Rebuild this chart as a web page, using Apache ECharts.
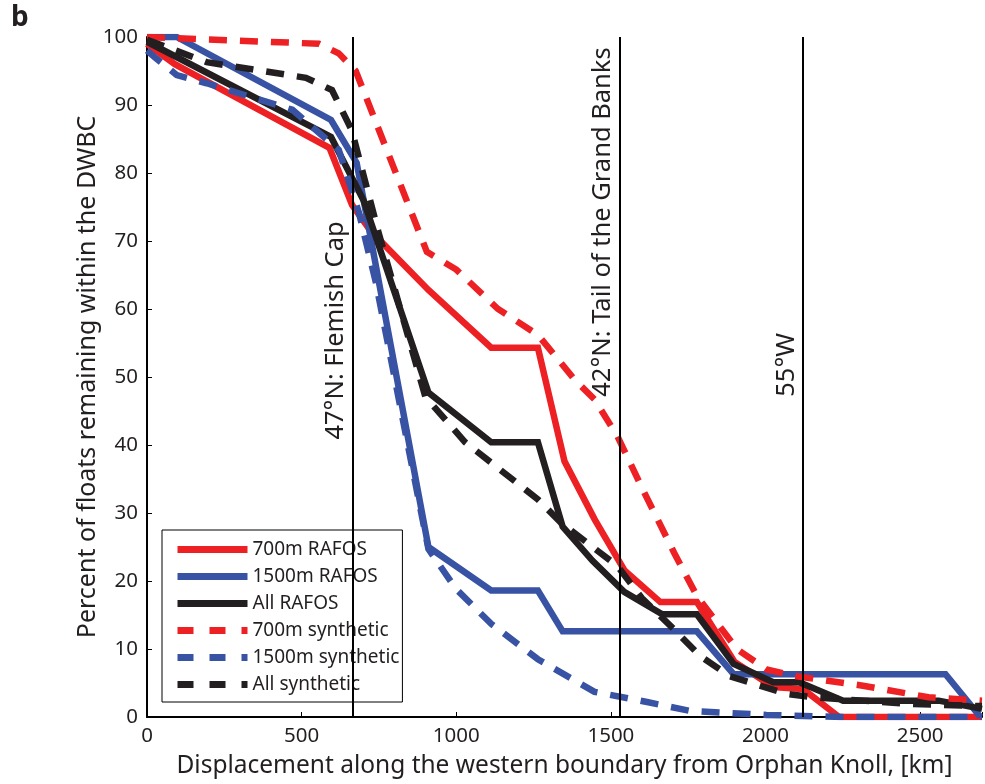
<!DOCTYPE html>
<html><head><meta charset="utf-8">
<script src="https://cdn.jsdelivr.net/npm/echarts@6/dist/echarts.min.js"></script>
<style>html,body{margin:0;padding:0;background:#fff}#c{width:985px;height:784px}</style>
</head><body><div id="c"></div>
<script>
const FONT = '"Noto Sans", "Open Sans", sans-serif';
const xTicks = [0, 500, 1000, 1500, 2000, 2500];
const yTicks = [0, 10, 20, 30, 40, 50, 60, 70, 80, 90, 100];

const r700X = [0, 90, 590, 663, 723, 910, 1113, 1264, 1350, 1447, 1545, 1660, 1778, 1900, 2025, 2122, 2238, 2700];
const r700Y = [99, 96, 83.7, 75.3, 71.5, 62.8, 54.3, 54.3, 37.6, 29.1, 21.5, 16.9, 16.9, 8.1, 4.4, 4.1, 0, 0];

const r1500X = [0, 96, 595, 678, 910, 1113, 1264, 1344, 1778, 1897, 2582, 2695];
const r1500Y = [100, 100, 87.8, 81.5, 25, 18.6, 18.6, 12.6, 12.6, 6.3, 6.3, 0];

const rAllX = [0, 595, 700, 910, 1113, 1264, 1344, 1440, 1543, 1666, 1778, 1897, 2025, 2109, 2251, 2560, 2700];
const rAllY = [99.3, 85.3, 76, 47.7, 40.4, 40.4, 28, 23, 18.4, 15.1, 15.1, 7.8, 5.1, 5.1, 2.4, 2.4, 1.2];

const s700X = [0, 556, 620, 675, 905, 1000, 1135, 1264, 1383, 1447, 1521, 1608, 1704, 1778, 1907, 2003, 2100, 2315, 2527, 2700];
const s700Y = [100, 99, 97.6, 95, 68.4, 65.8, 60, 56.2, 49.6, 46.7, 41.3, 33, 24.2, 17.8, 10, 7, 6, 4.6, 2.9, 2.4];

const s1500X = [0, 26, 96, 193, 470, 620, 685, 740, 846, 910, 1000, 1113, 1264, 1447, 1617, 1756, 2003, 2250, 2700];
const s1500Y = [98, 97, 94.4, 93.2, 89.3, 83.4, 74.2, 63.9, 39.4, 24.7, 18.8, 13.7, 8.5, 3.7, 2.2, 0.9, 0.3, 0, 0];

const sAllX = [0, 193, 514, 598, 662, 749, 900, 1029, 1264, 1338, 1521, 1600, 1704, 1788, 1884, 2068, 2154, 2476, 2700];
const sAllY = [99.6, 96.3, 94, 92.2, 86.3, 71.2, 47.1, 40.4, 32, 28.6, 22.2, 17.5, 12.9, 9, 6, 3.4, 2.9, 1.9, 1.6];

const markerX = [665, 1530, 2122];
const markerLabels = ['47°N: Flemish Cap', '42°N: Tail of the Grand Banks', '55°W'];
const markerLabelY = [40.8, 47.1, 47.1];

const names = ['700m RAFOS', '1500m RAFOS', 'All RAFOS', '700m synthetic', '1500m synthetic', 'All synthetic'];
const RED = '#ED2024', BLUE = '#3953A4', BLACK = '#231F20';
const colors = [RED, BLUE, BLACK, RED, BLUE, BLACK];

function pairs(xs, ys) { return xs.map((x, i) => [x, ys[i]]); }

function mkSeries(name, xs, ys, color, dashed) {
  return {
    name: name, type: 'line', data: pairs(xs, ys), symbol: 'none', showSymbol: false,
    lineStyle: { color: color, width: 6.5, type: dashed ? [18, 13] : 'solid', cap: 'butt', join: 'miter' },
    itemStyle: { color: color }, animation: false, z: dashed ? 3 : 2
  };
}

const chart = echarts.init(document.getElementById('c'), null, { renderer: 'canvas' });
const series = [
  mkSeries(names[0], r700X, r700Y, RED, false),
  mkSeries(names[1], r1500X, r1500Y, BLUE, false),
  mkSeries(names[2], rAllX, rAllY, BLACK, false),
  mkSeries(names[3], s700X, s700Y, RED, true),
  mkSeries(names[4], s1500X, s1500Y, BLUE, true),
  mkSeries(names[5], sAllX, sAllY, BLACK, true)
];
series.push({
  type: 'line', data: [], silent: true, animation: false,
  markLine: {
    symbol: 'none', silent: true, animation: false,
    label: { show: false },
    lineStyle: { color: '#000', width: 2, type: 'solid' },
    data: markerX.map(x => [{ coord: [x, 0] }, { coord: [x, 100] }])
  }
});

chart.setOption({
  animation: false,
  backgroundColor: '#fff',
  grid: { left: 147, right: 0, top: 37, bottom: 66, containLabel: false },
  xAxis: {
    type: 'value', min: 0, max: 2700, interval: 500,
    name: 'Displacement along the western boundary from Orphan Knoll, [km]',
    nameLocation: 'middle', nameGap: 37, nameMoveOverlap: false,
    nameTextStyle: { fontFamily: FONT, fontSize: 24.5, color: '#231F20' },
    axisLine: { show: true, onZero: false, lineStyle: { color: '#000', width: 2 } },
    axisTick: { show: true, inside: true, length: 5, lineStyle: { color: '#000' } },
    axisLabel: { fontFamily: FONT, fontSize: 20.5, color: '#231F20', margin: 9,
      formatter: v => xTicks.includes(v) ? String(v) : '' },
    splitLine: { show: false }
  },
  yAxis: {
    type: 'value', min: 0, max: 100, interval: 10,
    name: 'Percent of floats remaining within the DWBC',
    nameLocation: 'middle', nameGap: 47, nameRotate: 90, nameMoveOverlap: false,
    nameTextStyle: { fontFamily: FONT, fontSize: 25, color: '#231F20' },
    axisLine: { show: true, lineStyle: { color: '#000', width: 2 } },
    axisTick: { show: true, inside: true, length: 5, lineStyle: { color: '#000' } },
    axisLabel: { fontFamily: FONT, fontSize: 20.5, color: '#231F20', margin: 9,
      formatter: v => yTicks.includes(v) ? String(v) : '' },
    splitLine: { show: false }
  },
  legend: {
    data: names.map((n, i) => ({
      name: n,
      lineStyle: { color: colors[i], width: 7, type: i >= 3 ? [16, 16] : 'solid', cap: 'butt' }
    })),
    orient: 'vertical', left: 162, top: 530,
    itemWidth: 70, itemHeight: 16, itemGap: 8,
    padding: [10, 3, 8, 12],
    itemStyle: { opacity: 0 },
    backgroundColor: '#fff', borderColor: '#000', borderWidth: 1, borderRadius: 0,
    textStyle: { fontFamily: FONT, fontSize: 19, lineHeight: 16, color: '#231F20' },
    selectedMode: false
  },
  series: series
});

const gfx = [{
  type: 'text', left: 11, top: 4,
  style: { text: 'b', font: 'bold 28px ' + FONT, fill: '#231F20' }
}];
markerX.forEach((x, i) => {
  const p = chart.convertToPixel({ gridIndex: 0 }, [x, markerLabelY[i]]);
  gfx.push({
    type: 'text', x: p[0] - 4, y: p[1], rotation: Math.PI / 2,
    style: { text: markerLabels[i], font: '25.5px ' + FONT, fill: '#231F20',
      align: 'left', verticalAlign: 'bottom' }
  });
});
chart.setOption({ graphic: gfx });
</script>
</body></html>
